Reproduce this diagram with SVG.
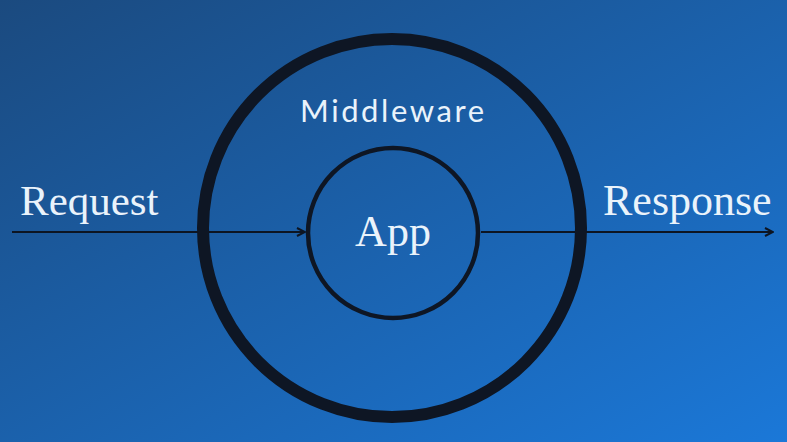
<svg xmlns="http://www.w3.org/2000/svg" width="787" height="442" viewBox="0 0 787 442">
  <defs>
    <linearGradient id="bg" x1="0" y1="0" x2="1" y2="1">
      <stop offset="0" stop-color="#1b4a7f"/>
      <stop offset="1" stop-color="#1b78d8"/>
    </linearGradient>
    <marker id="arrow" viewBox="0 0 10 10" refX="9" refY="5" markerWidth="10" markerHeight="10" markerUnits="userSpaceOnUse" orient="auto">
      <path d="M1,1 L9,5 L1,9" fill="none" stroke="#0d1522" stroke-width="2"/>
    </marker>
  </defs>
  <style>
    .serif { font-family: "Liberation Serif", "DejaVu Serif", serif; fill: #eaf3fb; }
    .sans { font-family: Lato, "Open Sans", sans-serif; font-weight: 400; fill: #eaf3fb; }
    .conn { stroke: #0d1522; stroke-width: 2; fill: none; }
    .ring { fill: none; stroke: #0e1624; }
  </style>
  <rect width="787" height="442" fill="url(#bg)"/>
  <g id="connectors">
    <line class="conn" x1="12" y1="232" x2="305" y2="232" marker-end="url(#arrow)"/>
    <line class="conn" x1="481" y1="232" x2="773" y2="232" marker-end="url(#arrow)"/>
  </g>
  <g id="middleware">
    <circle class="ring" cx="392" cy="228" r="189" stroke-width="12"/>
    <text class="sans" x="392" y="122" font-size="31" text-anchor="middle" textLength="184" lengthAdjust="spacing">Middleware</text>
  </g>
  <g id="app">
    <circle class="ring" cx="393" cy="233" r="85" stroke-width="4.5"/>
    <text class="serif" x="393" y="246" font-size="44" text-anchor="middle">App</text>
  </g>
  <g id="request">
    <text class="serif" x="20" y="215" font-size="43">Request</text>
  </g>
  <g id="response">
    <text class="serif" x="603" y="215" font-size="44">Response</text>
  </g>
</svg>
